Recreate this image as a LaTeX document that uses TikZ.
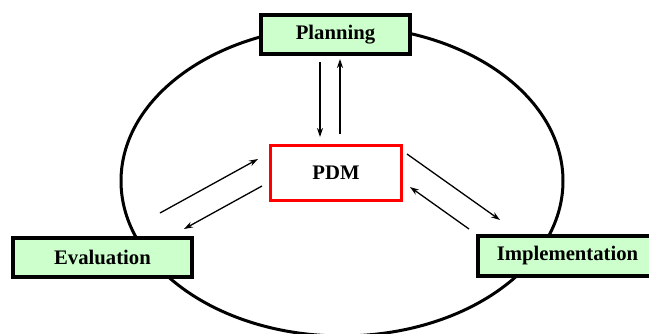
\documentclass[tikz,border=0pt]{standalone}
\usepackage{fontspec}
\setmainfont{Liberation Serif}
\usetikzlibrary{calc,arrows.meta}
\definecolor{boxgreen}{HTML}{CCFFCC}
\begin{document}
\begin{tikzpicture}[x=1pt,y=-1pt,
  phase/.style={draw=black,fill=boxgreen,line width=4pt,inner sep=0pt,
    font=\fontsize{20.7}{24}\selectfont\bfseries},
  core/.style={draw=red,fill=white,line width=3pt,inner sep=0pt,
    font=\fontsize{20.7}{24}\selectfont\bfseries},
  arr/.style={line width=1.3pt,-{Stealth[length=9pt,width=6pt]}}]
  \useasboundingbox (0,0) rectangle (649,333);
  % outer cycle
  \draw[line width=3pt] (342,181) ellipse [x radius=221pt, y radius=155pt];
  % phases
  \node[phase,minimum width=149pt,minimum height=39pt] (pl) at (335.5,34.5) {Planning};
  \node[phase,minimum width=179pt,minimum height=39pt] (ev) at (102.5,257.5) {Evaluation};
  \node[phase,minimum width=179pt,minimum height=40pt] (im) at (567.5,256) {Implementation};
  \node[core,minimum width=131pt,minimum height=55pt] (pdm) at (336,173) {PDM};
  % flows between PDM and the phases
  \draw[arr] ($(pl.south)+(-15.5,6)$) -- ($(pdm.north)+(-16,-7)$);
  \draw[arr] ($(pdm.north)+(4,-10)$) -- ($(pl.south)+(4.5,3)$);
  \draw[arr] ($(ev.north east)+(-34,-23)$) -- ($(pdm.west)+(-11,-14)$);
  \draw[arr] ($(pdm.west)+(-7,13)$) -- ($(ev.north east)+(-10,-7)$);
  \draw[arr] ($(pdm.east)+(4,-19)$) -- ($(im.north west)+(24,-14)$);
  \draw[arr] ($(im.north west)+(-7,-5)$) -- ($(pdm.east)+(7,14)$);
\end{tikzpicture}
\end{document}
